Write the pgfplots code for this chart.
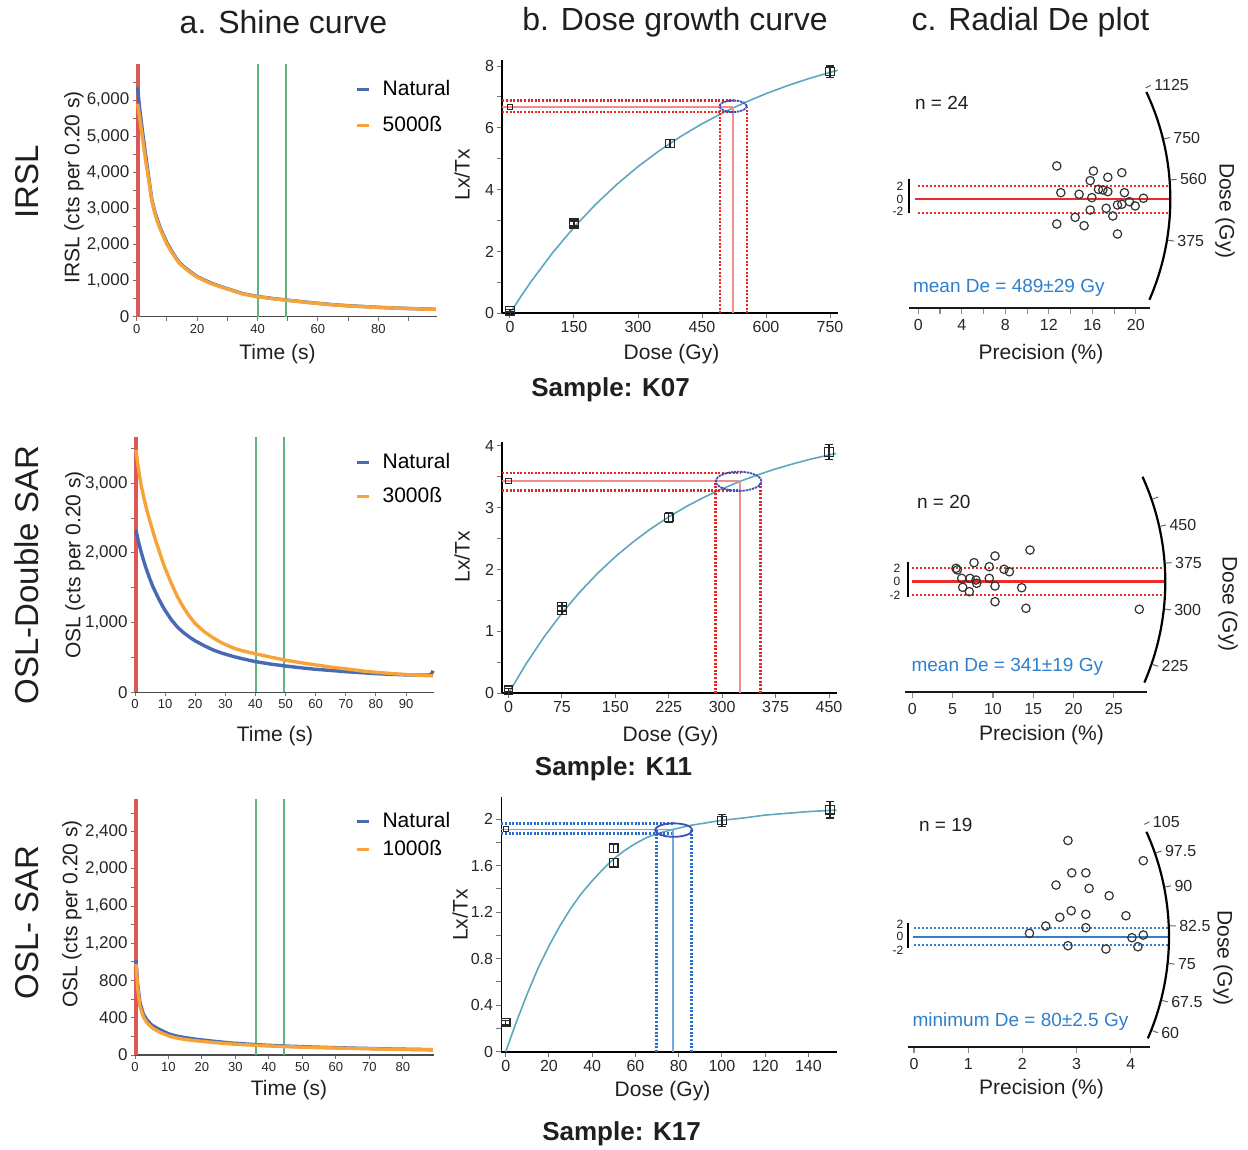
\documentclass[border=0pt]{standalone}
\usepackage{pgfplots}
\pgfplotsset{compat=1.18}
\usepackage{fontspec}
\setmainfont{Liberation Sans}

\definecolor{natblue}{RGB}{72,106,180}
\definecolor{betaor}{RGB}{246,163,58}
\definecolor{wingreen}{RGB}{96,180,128}
\definecolor{bandred}{RGB}{218,88,88}
\definecolor{fitteal}{RGB}{92,168,190}
\definecolor{dotred}{RGB}{238,32,32}
\definecolor{solred}{RGB}{244,140,140}
\definecolor{ellblue}{RGB}{62,78,186}
\definecolor{radred}{RGB}{236,44,44}
\definecolor{radblue}{RGB}{46,128,204}
\definecolor{dotblue}{RGB}{40,110,200}
\definecolor{lightblue}{RGB}{112,170,224}

\newcommand\fsz[1]{\fontsize{#1}{#1}\selectfont}

\pgfplotsset{
  every axis/.append style={scale only axis, clip=false, anchor=south west,
    /pgf/number format/assume math mode=true, scaled ticks=false},
  shine/.style={
    axis x line*=bottom, axis y line*=left,
    axis line style={black!70, line width=0.6pt},
    tick align=outside, major tick length=2pt, minor tick length=2pt,
    tick style={black!55, line width=0.5pt},
    xticklabel style={font=\fsz{6.5}, text=black!85, inner sep=1.5pt},
    yticklabel style={font=\fsz{8.5}, text=black!85, inner sep=1.5pt, /pgf/number format/1000 sep={,}},
    xmin=0, ymin=0,
    legend style={draw=none, fill=none, font=\fsz{10.5}, anchor=north west, inner sep=0pt,
      nodes={inner sep=1pt, text height=7.5pt, text depth=1.5pt},
      /tikz/every odd column/.append style={column sep=5pt}},
    legend cell align=left,
    legend image code/.code={\draw[##1, line width=1.6pt] (0pt,0pt) -- (6pt,0pt);},
  },
  decay/.style={line width=1.7pt, line join=round},
  win/.style={draw=wingreen, line width=1.1pt, forget plot},
  band/.style={draw=bandred, line width=2.2pt, forget plot},
  growth/.style={
    axis x line*=bottom, axis y line*=left,
    axis line style={black, line width=0.9pt},
    tick align=outside, major tick length=2.5pt, minor tick length=2.5pt,
    tick style={black!55, line width=0.5pt},
    tick label style={font=\fsz{8}, text=black!85, inner sep=1.5pt},
    ymin=0,
  },
  fit/.style={fitteal, line width=0.8pt},
  pt/.style={only marks, mark=square, mark size=2.1pt, black!85,
    mark options={fill=white, line width=0.6pt},
    error bars/.cd, y dir=both, y explicit,
    error bar style={line width=0.6pt, black!85},
    error mark options={rotate=90, mark size=2pt, line width=0.6pt}},
  natpt/.style={only marks, mark=square, mark size=1.3pt, black!85, mark options={fill=white, line width=0.5pt}},
  dotl/.style={line width=1.3pt, dash pattern=on 1pt off 0.8pt},
  soll/.style={line width=0.8pt},
  radial/.style={
    axis x line*=bottom, axis y line=none,
    axis line style={black!90, line width=1.1pt},
    tick align=outside, major tick length=3pt, minor tick length=3pt,
    tick style={black!45, line width=0.6pt},
    xticklabel style={font=\fsz{8}, text=black!85, inner sep=2.5pt},
    ytick=\empty,
  },
  rpt/.style={only marks, mark=o, mark size=2.1pt, black!80, mark options={line width=0.6pt}},
  rdot/.style={line width=1.1pt, dash pattern=on 1pt off 1pt},
}

\begin{document}
\begin{tikzpicture}
\useasboundingbox (0,0) rectangle (624pt,-575pt);

% ================= a1: IRSL shine curve
\begin{axis}[shine, at={(68.35pt,-158.35pt)}, width=150pt, height=126.35pt,
  xmax=99.3, ymax=7000,
  xtick={0,20,...,80}, minor xtick={10,30,...,90},
  ytick={0,1000,...,6000}, minor ytick={500,1500,...,6500},
  legend style={at={(0.728,0.945)}, row sep=7pt}]
\addplot[band] coordinates {(0.35,0) (0.35,7000)};
\addplot[win] coordinates {(49.5,0) (49.5,7000)};
\addplot[win] coordinates {(40.15,0) (40.15,7000)};
\addplot[natblue, decay] coordinates {
 (0.3,6350) (1,5750) (2,5080) (3,4450) (4,3850) (5,3250) (6,2900) (7,2650) (8,2420)
 (9,2230) (10,2050) (12,1760) (14,1510) (16,1360) (18,1230) (20,1110) (22,1030)
 (25,920) (28,830) (31,750) (35,640) (40,560) (45,505) (50,458) (55,412) (60,372)
 (65,332) (70,305) (75,282) (80,260) (85,243) (90,228) (95,214) (99,205)};
\addlegendentry{Natural}
\addplot[betaor, decay] coordinates {
 (0.3,5900) (1,5500) (2,4900) (3,4300) (4,3780) (5,3220) (6,2860) (7,2600) (8,2380)
 (9,2190) (10,2010) (12,1730) (14,1490) (16,1340) (18,1210) (20,1095) (22,1015)
 (25,905) (28,820) (31,742) (35,632) (40,552) (45,498) (50,452) (55,406) (60,366)
 (65,328) (70,300) (75,278) (80,256) (85,240) (90,225) (95,212) (99,203)};
\addlegendentry{5000ß}
\end{axis}

% ================= a2: OSL double SAR shine curve
\begin{axis}[shine, at={(67.5pt,-346.15pt)}, width=149.65pt, height=127.9pt,
  xmax=99.4, ymax=3670,
  xtick={0,10,...,90},
  ytick={0,1000,2000,3000}, minor ytick={500,1500,2500,3500},
  legend style={at={(0.735,0.943)}, row sep=6pt}]
\addplot[band] coordinates {(0.35,0) (0.35,3670)};
\addplot[win] coordinates {(49.5,0) (49.5,3670)};
\addplot[win] coordinates {(40.15,0) (40.15,3670)};
\addplot[natblue, decay] coordinates {
 (0.3,2330) (1,2190) (2,2020) (3,1870) (4,1740) (5,1620) (6,1510) (7,1420) (8,1330)
 (9,1250) (10,1175) (12,1045) (14,940) (16,860) (18,795) (20,738) (23,668) (26,607)
 (29,560) (33,510) (36,478) (40,440) (45,405) (50,377) (55,352) (60,330) (66,310)
 (70,296) (75,282) (80,268) (85,258) (90,250) (95,246) (98.3,250) (99,310)};
\addlegendentry{Natural}
\addplot[betaor, decay] coordinates {
 (0.3,3480) (1,3250) (2,2980) (3,2780) (4,2600) (5,2450) (6,2300) (7,2160) (8,2030)
 (9,1900) (10,1780) (12,1570) (14,1380) (16,1225) (18,1095) (20,985) (23,870)
 (26,780) (29,705) (33,630) (36,592) (40,553) (45,505) (50,462) (55,425) (60,393)
 (65,362) (70,336) (77,298) (85,270) (90,255) (95,243) (99,236)};
\addlegendentry{3000ß}
\end{axis}

% ================= a3: OSL SAR shine curve
\begin{axis}[shine, at={(67.5pt,-527.5pt)}, width=149.65pt, height=127.85pt,
  xmax=89.4, ymax=2748,
  xtick={0,10,...,80},
  ytick={0,400,...,2400}, minor ytick={200,600,...,2600},
  legend style={at={(0.735,0.958)}, row sep=3pt}]
\addplot[band] coordinates {(0.35,0) (0.35,2748)};
\addplot[win] coordinates {(44.5,0) (44.5,2748)};
\addplot[win] coordinates {(36.15,0) (36.15,2748)};
\addplot[natblue, decay] coordinates {
 (0.3,1020) (0.8,760) (1.5,560) (2.5,440) (3.5,380) (5,322) (6.5,290) (8,262)
 (10,228) (12,207) (15,186) (19,166) (24,146) (29,128) (35,114) (40,104) (45,96)
 (50,90) (55,84) (60,79) (65,74) (70,70) (75,66) (80,63) (85,60) (89,58)};
\addlegendentry{Natural}
\addplot[betaor, decay] coordinates {
 (0.3,980) (0.8,720) (1.5,520) (2.5,410) (3.5,350) (5,296) (6.5,262) (8,236)
 (10,206) (12,186) (15,166) (19,150) (24,133) (29,118) (35,106) (40,97) (45,90)
 (50,84) (55,79) (60,75) (65,71) (70,67) (75,63) (80,60) (85,57) (89,55)};
\addlegendentry{1000ß}
\end{axis}

% ================= b1: dose growth curve K07
\begin{axis}[growth, at={(251.15pt,-156.65pt)}, width=167.7pt, height=126.7pt,
  xmin=-18, xmax=768, ymax=8.2,
  xtick={0,150,...,750}, ytick={0,2,...,8}, minor ytick={1,3,5,7}]
\addplot[fit] coordinates {
 (0,0) (25,0.534) (50,1.038) (100,1.961) (150,2.783) (200,3.514) (250,4.166)
 (300,4.747) (350,5.263) (400,5.722) (450,6.131) (500,6.496) (550,6.820)
 (600,7.108) (650,7.365) (700,7.594) (750,7.798) (768,7.866)};
\addplot[dotred, dotl] coordinates {(-18,6.88) (523,6.88)};
\addplot[solred, soll] coordinates {(-18,6.67) (523,6.67)};
\addplot[dotred, dotl] coordinates {(-18,6.52) (523,6.52)};
\addplot[dotred, dotl] coordinates {(492,0) (492,6.67)};
\addplot[solred, soll] coordinates {(523,0) (523,6.67)};
\addplot[dotred, dotl] coordinates {(555,0) (555,6.67)};
\draw[ellblue, line width=0.9pt, dash pattern=on 1.2pt off 0.4pt] (axis cs:523,6.70) ellipse [x radius=32, y radius=0.185];
\addplot[pt] coordinates {
 (0,0.08) +- (0,0.04)
 (150,2.88) +- (0,0.1)
 (150,2.93) +- (0,0.1)
 (375,5.50) +- (0,0.13)
 (750,7.82) +- (0,0.18)};
\addplot[natpt] coordinates {(0,6.67)};
\end{axis}

% ================= b2: dose growth curve K11
\begin{axis}[growth, at={(251.15pt,-346.65pt)}, width=167.2pt, height=125.8pt,
  xmin=-8.7, xmax=460.8, ymax=4.065,
  xtick={0,75,...,450}, ytick={0,1,...,4}, minor ytick={0.5,1.5,2.5,3.5}]
\addplot[fit] coordinates {
 (0,0) (25,0.482) (50,0.912) (75,1.294) (100,1.634) (125,1.937) (150,2.207)
 (175,2.446) (200,2.660) (225,2.850) (250,3.020) (275,3.170) (300,3.304)
 (325,3.424) (350,3.530) (375,3.625) (400,3.709) (425,3.785) (450,3.851) (460,3.875)};
\addplot[dotred, dotl] coordinates {(-8.7,3.56) (325,3.56)};
\addplot[solred, soll] coordinates {(-8.7,3.43) (325,3.43)};
\addplot[dotred, dotl] coordinates {(-8.7,3.28) (325,3.28)};
\addplot[dotred, dotl] coordinates {(291,0) (291,3.43)};
\addplot[solred, soll] coordinates {(325,0) (325,3.43)};
\addplot[dotred, dotl] coordinates {(354,0) (354,3.43)};
\draw[ellblue, line width=0.9pt, dash pattern=on 1.2pt off 0.4pt] (axis cs:323,3.425) ellipse [x radius=32, y radius=0.155];
\addplot[pt] coordinates {
 (0,0.05) +- (0,0.03)
 (75,1.34) +- (0,0.07)
 (75,1.40) +- (0,0.07)
 (225,2.84) +- (0,0.08)
 (450,3.90) +- (0,0.12)};
\addplot[natpt] coordinates {(0,3.43)};
\end{axis}

% ================= b3: dose growth curve K17
\begin{axis}[growth, at={(250.7pt,-525.85pt)}, width=167.55pt, height=127.15pt,
  xmin=-2, xmax=153, ymax=2.187,
  xtick={0,20,...,140}, ytick={0,0.4,0.8,1.2,1.6,2}, minor ytick={0.2,0.6,1.0,1.4,1.8}]
\addplot[fit] coordinates {
 (0,0) (5,0.26) (10,0.50) (15,0.72) (20,0.91) (25,1.08) (30,1.23) (35,1.36)
 (40,1.47) (45,1.57) (50,1.66) (55,1.73) (60,1.79) (65,1.84) (70,1.875)
 (77.5,1.912) (85,1.945) (90,1.96) (100,1.99) (110,2.01) (120,2.035) (130,2.05)
 (140,2.065) (150,2.075) (153,2.078)};
\addplot[dotblue, dotl] coordinates {(-2,1.964) (77.5,1.964)};
\addplot[lightblue, soll] coordinates {(-2,1.912) (77.5,1.912)};
\addplot[dotblue, dotl] coordinates {(-2,1.878) (77.5,1.878)};
\addplot[dotblue, dotl] coordinates {(69.8,0) (69.8,1.912)};
\addplot[lightblue, soll] coordinates {(77.5,0) (77.5,1.912)};
\addplot[dotblue, dotl] coordinates {(86,0) (86,1.912)};
\draw[ellblue, line width=0.9pt] (axis cs:77.7,1.906) ellipse [x radius=8.6, y radius=0.058];
\addplot[pt] coordinates {
 (0,0.25) +- (0,0.02)
 (50,1.75) +- (0,0.035)
 (50,1.625) +- (0,0.04)
 (100,1.99) +- (0,0.05)
 (150,2.08) +- (0,0.07)};
\addplot[natpt] coordinates {(0,1.912)};
\end{axis}

% ================= c1: radial plot K07
\begin{axis}[radial, at={(454.65pt,-154.15pt)}, width=120.35pt, height=109.15pt,
  xmin=-0.83, xmax=21.3, ymin=-15.96, ymax=16,
  xtick={0,4,...,20}, minor xtick={2,6,...,18}]
\coordinate (O1) at (axis cs:0,0);
\addplot[radred, line width=1.2pt] coordinates {(-0.3,0) (23.15,0)};
\addplot[radred, rdot] coordinates {(0,2) (23.0,2)};
\addplot[radred, rdot] coordinates {(0,-2) (23.0,-2)};
\addplot[black, line width=1pt] coordinates {(-0.83,2.9) (-0.83,-2.0)};
\addplot[rpt] coordinates {
 (12.73,4.88) (13.1,0.97) (12.73,-3.62) (14.42,-2.64) (15.24,-3.86) (14.78,0.73)
 (15.8,2.73) (16.1,4.14) (15.95,0.24) (15.8,-1.57) (16.56,1.46) (16.96,1.36)
 (17.42,1.12) (17.42,3.22) (17.27,-1.32) (17.88,-2.44) (18.31,-5.08) (18.31,-0.83)
 (18.71,-0.73) (18.71,3.9) (18.95,0.97) (19.41,-0.35) (19.94,-0.98) (20.7,0.15)};
\end{axis}
\draw[line width=1.1pt] ([shift={(-23.5:126pt)}]O1) arc[start angle=-23.5, end angle=25.2, radius=126pt];
\foreach \a/\l in {26.1/1125,13.8/750,4.4/560,-9.3/375}{
  \draw[black!60, line width=0.5pt] ([shift={(\a:126.6pt)}]O1) -- ([shift={(\a:129.5pt)}]O1)
    node[anchor=west, inner sep=1.5pt, font=\fsz{8}, text=black!85] {\l};
}

% ================= c2: radial plot K11
\begin{axis}[radial, at={(452.5pt,-345.85pt)}, width=120.85pt, height=108.6pt,
  xmin=-0.906, xmax=29.08, ymin=-16.42, ymax=16,
  xtick={0,5,...,25}]
\coordinate (O2) at (axis cs:0,0);
\addplot[radred, line width=1.2pt] coordinates {(-0.1,0) (31.4,0)};
\addplot[radred, rdot] coordinates {(0,2) (31.3,2)};
\addplot[radred, rdot] coordinates {(0,-2) (31.3,-2)};
\addplot[black, line width=1pt] coordinates {(-0.5,2.98) (-0.5,-2.33)};
\addplot[rpt] coordinates {
 (5.42,2.0) (5.58,1.75) (6.13,0.5) (6.25,-0.84) (7.16,0.5) (7.07,-1.49) (7.66,2.84)
 (7.9,0.25) (7.99,-0.24) (9.55,2.24) (9.55,0.5) (10.26,3.84) (10.26,-0.64)
 (10.26,-2.99) (11.38,1.85) (12.04,1.49) (13.57,-0.9) (14.6,4.73) (14.1,-3.97)
 (28.16,-4.12)};
\end{axis}
\draw[line width=1.1pt] ([shift={(-23.5:126.5pt)}]O2) arc[start angle=-23.5, end angle=24.5, radius=126.5pt];
\foreach \a/\l in {19/{},12.6/450,4.2/375,-6.2/300,-19/225}{
  \draw[black!60, line width=0.5pt] ([shift={(\a:127.1pt)}]O2) -- ([shift={(\a:130pt)}]O2)
    node[anchor=west, inner sep=1.5pt, font=\fsz{8}, text=black!85] {\l};
}

% ================= c3: radial plot K17
\begin{axis}[radial, at={(454.15pt,-523.65pt)}, width=120.75pt, height=109.9pt,
  xmin=-0.105, xmax=4.35, ymin=-26.33, ymax=26,
  xtick={0,1,...,4}]
\coordinate (O3) at (axis cs:0,0);
\addplot[radblue, line width=1.2pt] coordinates {(-0.01,0) (4.70,0)};
\addplot[radblue, rdot] coordinates {(0,2) (4.69,2)};
\addplot[radblue, rdot] coordinates {(0,-2) (4.69,-2)};
\addplot[black, line width=1pt] coordinates {(-0.105,3.33) (-0.105,-2.76)};
\addplot[rpt] coordinates {
 (2.84,22.9) (2.62,12.3) (2.91,15.2) (3.17,15.2) (3.23,11.5) (3.6,9.76) (4.23,18.1)
 (2.69,4.62) (2.9,6.19) (3.17,5.33) (3.91,5.0) (2.43,2.55) (3.17,2.14) (2.13,0.81)
 (2.84,-2.14) (3.54,-2.93) (4.02,-0.24) (4.23,0.4) (4.13,-2.38)};
\end{axis}
\draw[line width=1.1pt] ([shift={(-23.5:127.5pt)}]O3) arc[start angle=-23.5, end angle=24.3, radius=127.5pt];
\foreach \a/\l in {26/105,19.1/97.5,11.2/90,2.4/82.5,-6/75,-14.4/67.5,-21.5/60}{
  \draw[black!60, line width=0.5pt] ([shift={(\a:128.1pt)}]O3) -- ([shift={(\a:131pt)}]O3)
    node[anchor=west, inner sep=1.5pt, font=\fsz{8}, text=black!85] {\l};
}

% ================= text
\begin{scope}[x=0.5pt, y=-0.5pt, every node/.style={text=black!88}]
\node[font=\fsz{16}] at (283.5,22) {a. Shine curve};
\node[font=\fsz{16}] at (675,22) {b. Dose growth curve};
\node[font=\fsz{16}] at (1030.5,22) {c. Radial De plot};
\node[font=\fsz{16.5}, rotate=90] at (27,181.5) {IRSL};
\node[font=\fsz{16.5}, rotate=90] at (27,575) {OSL-Double SAR};
\node[font=\fsz{16.5}, rotate=90] at (27,922.5) {OSL- SAR};
\node[font=\fsz{10.5}, rotate=90] at (74,187.5) {IRSL (cts per 0.20 s)};
\node[font=\fsz{10.5}, rotate=90] at (75,565) {OSL (cts per 0.20 s)};
\node[font=\fsz{10.5}, rotate=90] at (72,914) {OSL (cts per 0.20 s)};
\node[font=\fsz{10.5}] at (277.5,354) {Time (s)};
\node[font=\fsz{10.5}] at (275,736) {Time (s)};
\node[font=\fsz{10.5}] at (289,1090) {Time (s)};
\node[font=\fsz{10.5}, rotate=90] at (462,175) {Lx/Tx};
\node[font=\fsz{10.5}, rotate=90] at (462,557) {Lx/Tx};
\node[font=\fsz{10.5}, rotate=90] at (460,915) {Lx/Tx};
\node[font=\fsz{10.5}] at (671.5,354) {Dose (Gy)};
\node[font=\fsz{10.5}] at (670.5,736) {Dose (Gy)};
\node[font=\fsz{10.5}] at (662.5,1091) {Dose (Gy)};
\node[font=\fsz{13}\bfseries] at (610.5,390) {Sample: K07};
\node[font=\fsz{13}\bfseries] at (613.5,769) {Sample: K11};
\node[font=\fsz{13}\bfseries] at (621.5,1134) {Sample: K17};
% radial texts
\node[font=\fsz{9.5}, anchor=west] at (908,103) {n = 24};
\node[font=\fsz{9.5}, anchor=west] at (910,502) {n = 20};
\node[font=\fsz{9.5}, anchor=west] at (912,825) {n = 19};
\node[font=\fsz{9.5}, anchor=west, text=radblue] at (906,287.5) {mean De = 489±29 Gy};
\node[font=\fsz{9.5}, anchor=west, text=radblue] at (904.5,666.5) {mean De = 341±19 Gy};
\node[font=\fsz{9.5}, anchor=west, text=radblue] at (905.5,1021.5) {minimum De = 80±2.5 Gy};
\node[font=\fsz{10.5}] at (1041,354) {Precision (\%)};
\node[font=\fsz{10.5}] at (1041.5,735) {Precision (\%)};
\node[font=\fsz{10.5}] at (1041.5,1089) {Precision (\%)};
\node[font=\fsz{10.5}, rotate=-90] at (1225,211) {Dose (Gy)};
\node[font=\fsz{10.5}, rotate=-90] at (1228,604) {Dose (Gy)};
\node[font=\fsz{10.5}, rotate=-90] at (1223,958) {Dose (Gy)};
% z-scale labels
\node[font=\fsz{6}, inner sep=0pt] at (900,186) {2};
\node[font=\fsz{6}, inner sep=0pt] at (900,199.3) {0};
\node[font=\fsz{6}, inner sep=0pt] at (898,211) {-2};
\node[font=\fsz{6}, inner sep=0pt] at (897,568) {2};
\node[font=\fsz{6}, inner sep=0pt] at (897,581.7) {0};
\node[font=\fsz{6}, inner sep=0pt] at (895,595) {-2};
\node[font=\fsz{6}, inner sep=0pt] at (900,924) {2};
\node[font=\fsz{6}, inner sep=0pt] at (900,936.7) {0};
\node[font=\fsz{6}, inner sep=0pt] at (898,950) {-2};
\end{scope}
\end{tikzpicture}
\end{document}
